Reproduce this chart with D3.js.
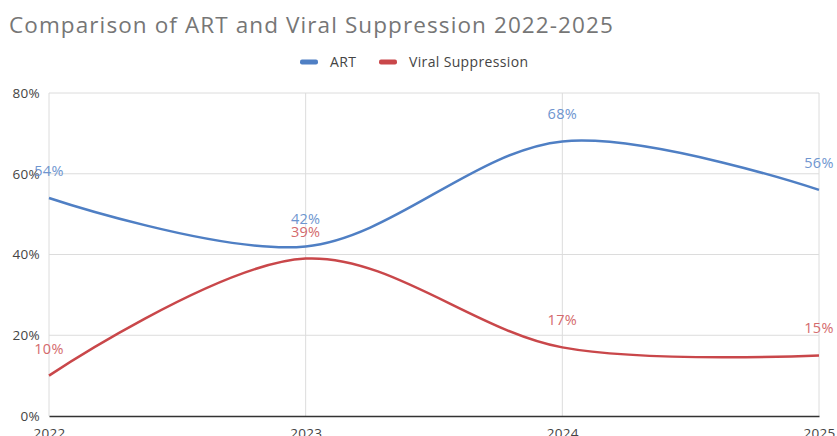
<!DOCTYPE html>
<html>
<head>
<meta charset="utf-8">
<script src="https://cdn.jsdelivr.net/npm/d3@7"></script>
<style>
  html, body { margin: 0; padding: 0; background: #fff; }
  svg { display: block; font-family: "Open Sans", sans-serif; }
</style>
</head>
<body>
<svg id="chart" width="837" height="436"></svg>
<script>
// Years on the x axis
const years = ["2022", "2023", "2024", "2025"];
// Percent of clients on ART per year
const artValues = [54, 42, 68, 56];
// Percent of clients virally suppressed per year
const suppressionValues = [10, 39, 17, 15];
// Y axis ticks
const yTicks = [0, 20, 40, 60, 80];

const seriesNames = ["ART", "Viral Suppression"];
const lineColors = ["#4f7fc4", "#c9474a"];
const labelColors = ["#6e95cf", "#d46a6c"];

const W = 837, H = 436;
const margin = { left: 49, right: 18, top: 93, bottom: 20 };

const svg = d3.select("#chart");

const x = d3.scalePoint().domain(years).range([margin.left, W - margin.right]);
const y = d3.scaleLinear().domain([0, 80]).range([H - margin.bottom, margin.top]);

// Title
svg.append("text")
  .attr("x", 9).attr("y", 33)
  .attr("font-size", 22.5)
  .attr("letter-spacing", 1.1)
  .attr("fill", "#767676")
  .text("Comparison of ART and Viral Suppression 2022-2025");

// Legend
const legend = svg.append("g").attr("transform", "translate(300,62)");
const legendX = [0, 79];
seriesNames.forEach((name, i) => {
  const g = legend.append("g").attr("transform", `translate(${legendX[i]},0)`);
  g.append("rect").attr("x", 0).attr("y", -2.5).attr("width", 18).attr("height", 5)
    .attr("rx", 2).attr("fill", lineColors[i]);
  g.append("text").attr("x", 30).attr("y", 5).attr("font-size", 14)
    .attr("letter-spacing", 0.35).attr("fill", "#444")
    .text(name);
});

// Horizontal gridlines
svg.append("g")
  .selectAll("line")
  .data(yTicks.filter(d => d > 0))
  .join("line")
  .attr("x1", margin.left).attr("x2", W - margin.right)
  .attr("y1", d => y(d)).attr("y2", d => y(d))
  .attr("stroke", "#dcdcdc").attr("stroke-width", 1);

// Vertical gridlines
svg.append("g")
  .selectAll("line")
  .data(years)
  .join("line")
  .attr("x1", d => x(d)).attr("x2", d => x(d))
  .attr("y1", y(80)).attr("y2", y(0))
  .attr("stroke", "#dcdcdc").attr("stroke-width", 1);

// Y axis labels
const yAxis = d3.axisLeft(y).tickValues(yTicks).tickSize(0).tickPadding(9)
  .tickFormat(d => d + "%");
svg.append("g")
  .attr("transform", `translate(${margin.left},0)`)
  .call(yAxis)
  .call(g => g.select(".domain").remove())
  .call(g => g.selectAll("text").attr("font-size", 13.5).attr("fill", "#444")
    .attr("letter-spacing", 0.3)
    .attr("font-family", "Open Sans, sans-serif"));

// X axis
const xAxis = d3.axisBottom(x).tickSize(0).tickPadding(12);
svg.append("g")
  .attr("transform", `translate(0,${y(0)})`)
  .call(xAxis)
  .call(g => g.select(".domain").attr("stroke", "#333").attr("stroke-width", 1.3))
  .call(g => g.selectAll("text").attr("font-size", 13.5).attr("fill", "#444")
    .attr("letter-spacing", 0.3)
    .attr("font-family", "Open Sans, sans-serif"));

// Smoothed series lines
const line = d3.line()
  .x((d, i) => x(years[i]))
  .y(d => y(d))
  .curve(d3.curveCatmullRom.alpha(0.5));

const allSeries = [artValues, suppressionValues];
allSeries.forEach((vals, i) => {
  svg.append("path")
    .datum(vals)
    .attr("fill", "none")
    .attr("stroke", lineColors[i])
    .attr("stroke-width", 2.5)
    .attr("d", line);
});

// Value labels above each point
allSeries.forEach((vals, i) => {
  svg.append("g")
    .selectAll("text")
    .data(vals)
    .join("text")
    .attr("x", (d, j) => x(years[j]))
    .attr("y", d => y(d) - 22)
    .attr("text-anchor", "middle")
    .attr("font-size", 14.5)
    .attr("letter-spacing", 0.3)
    .attr("fill", labelColors[i])
    .text(d => d + "%");
});
</script>
</body>
</html>
